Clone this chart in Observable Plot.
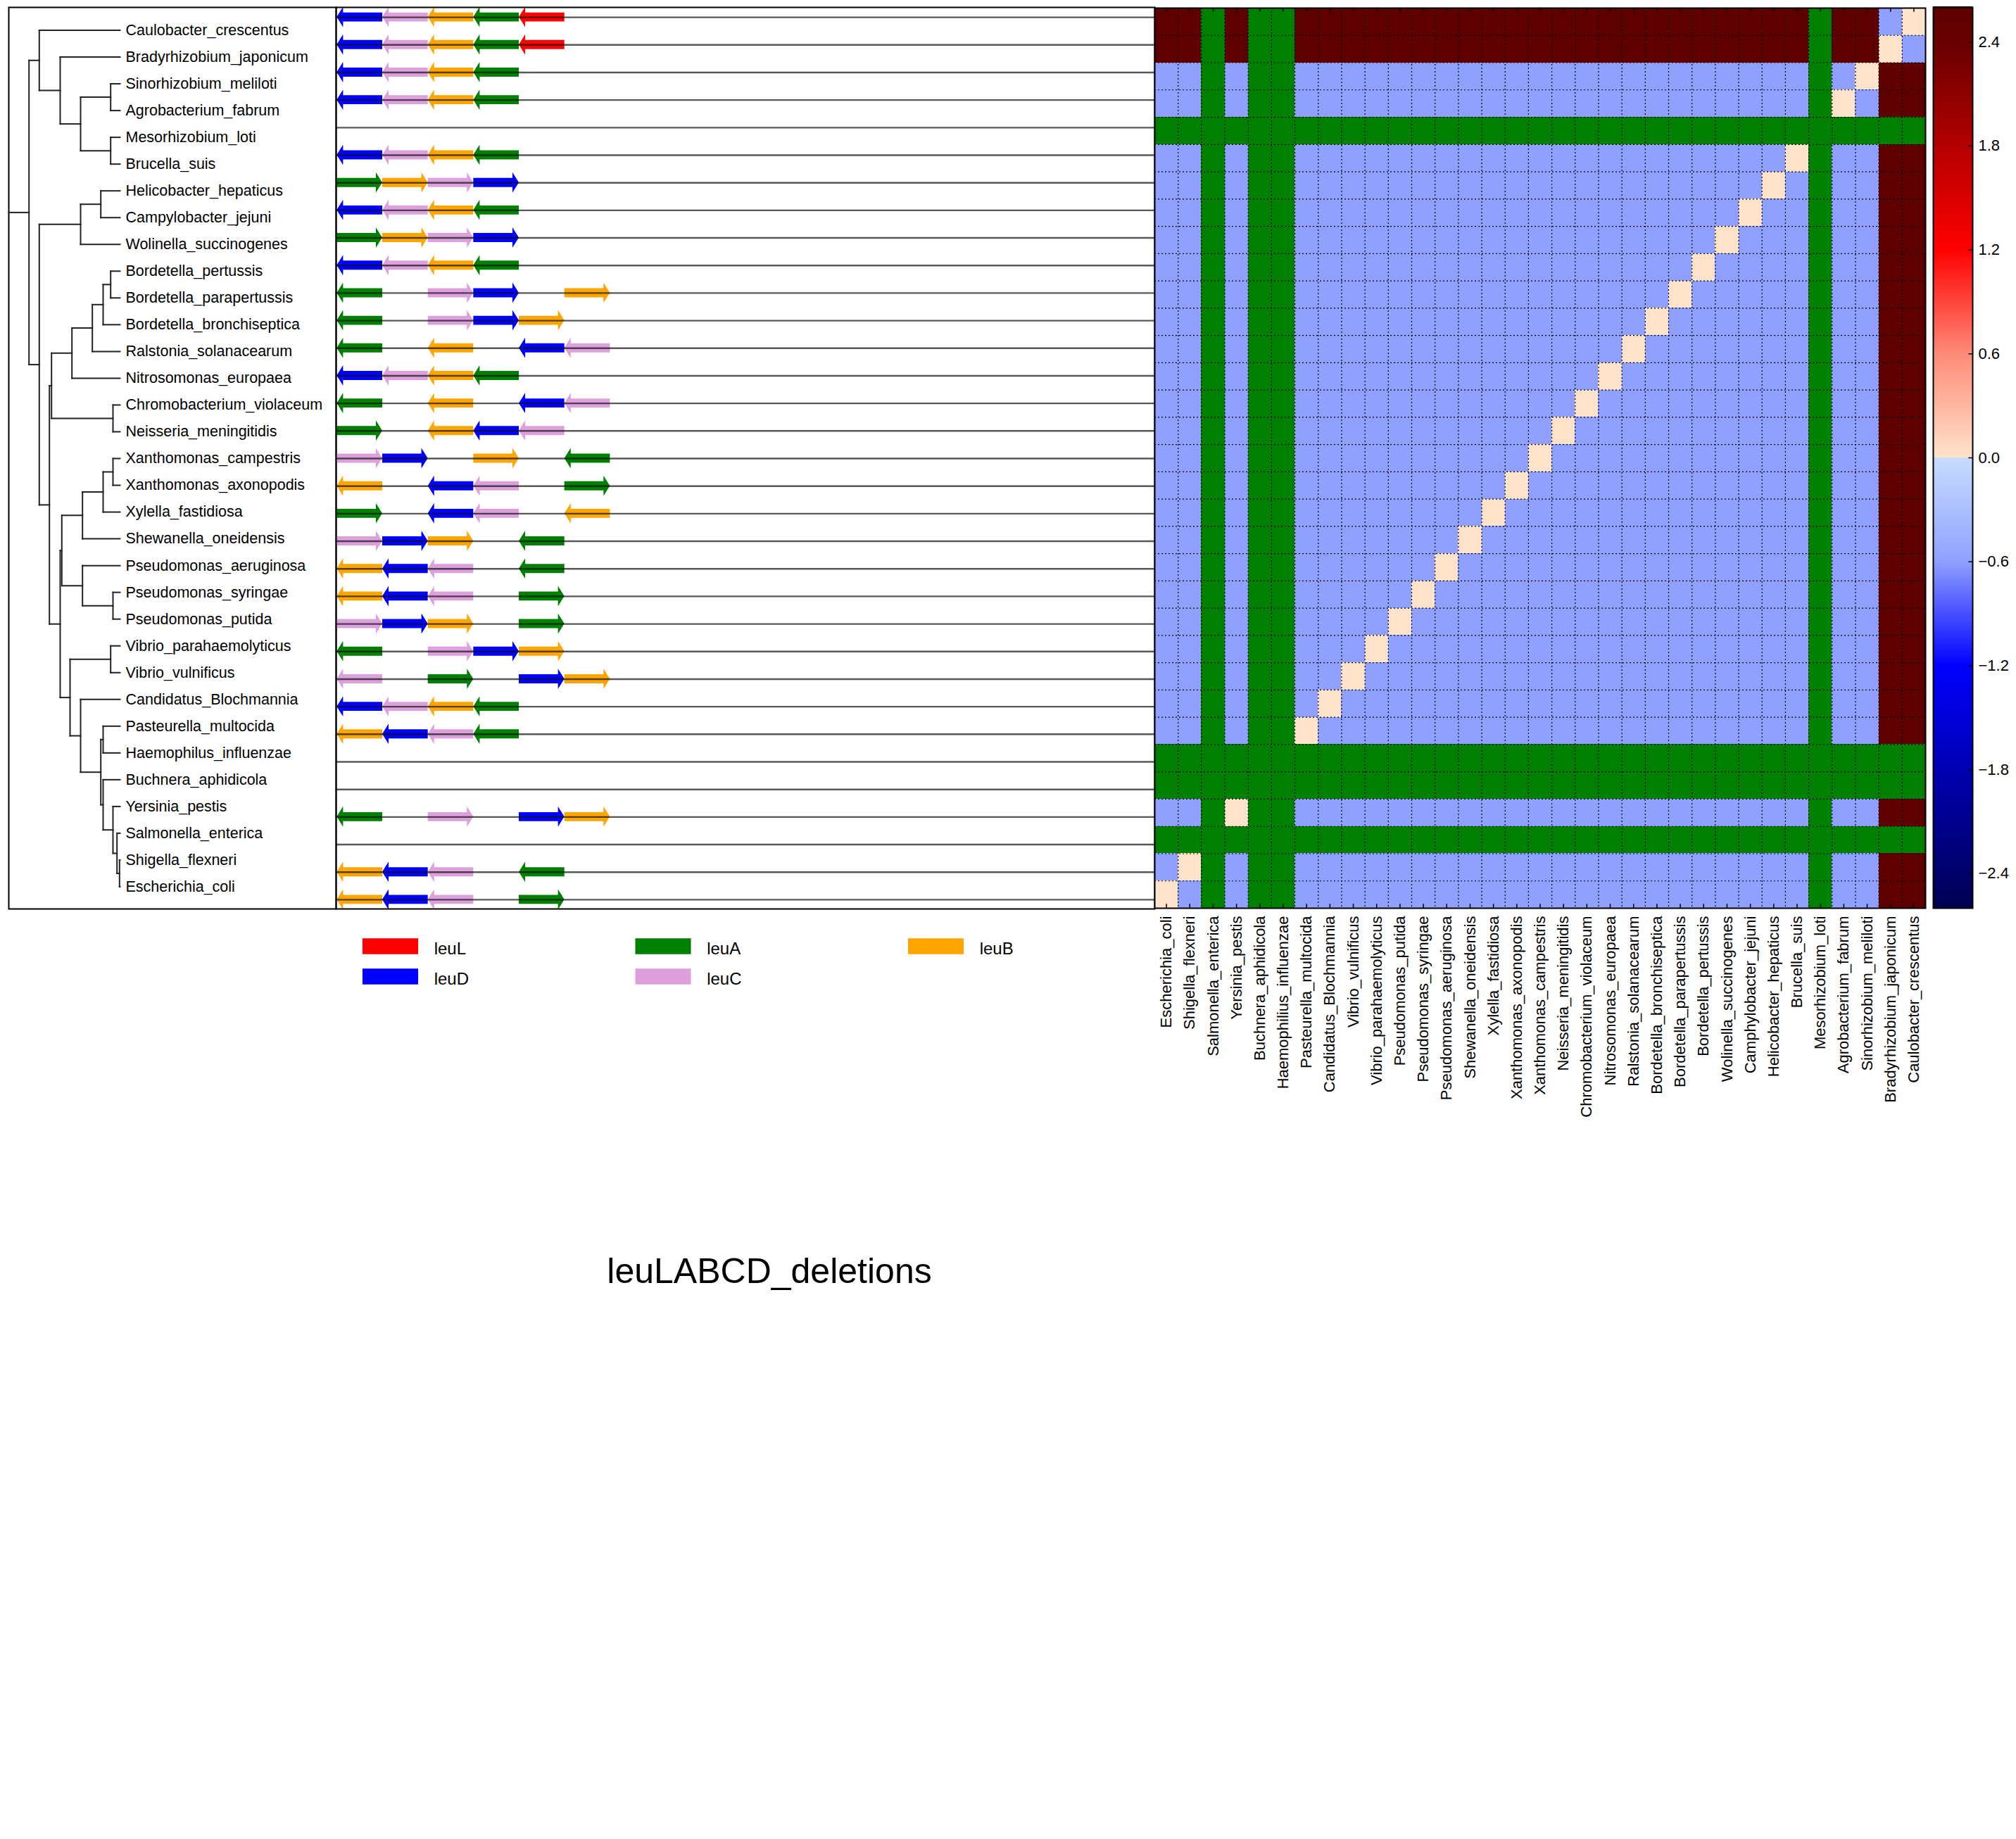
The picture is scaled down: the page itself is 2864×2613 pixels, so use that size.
<!DOCTYPE html>
<html>
<head>
<meta charset="utf-8">
<script src="https://cdn.jsdelivr.net/npm/d3@7"></script>
<script src="https://cdn.jsdelivr.net/npm/@observablehq/plot@0.6"></script>
<style>
  html, body { margin: 0; padding: 0; background: #fff; }
  #wrap { position: relative; width: 2864px; height: 2613px; background: #fff;
          font-family: "Liberation Sans", Arial, Helvetica, sans-serif; }
  #wrap svg { position: absolute; }
  #title { position: absolute; left: 0; width: 2186px; top: 1781px; text-align: center;
           font-size: 50px; line-height: 50px; color: #000; }
</style>
</head>
<body>
<div id="wrap"><div id="title">leuLABCD_deletions</div></div>
<script>
// ---------------- DATA ----------------
const species = [
  "Caulobacter_crescentus","Bradyrhizobium_japonicum","Sinorhizobium_meliloti","Agrobacterium_fabrum",
  "Mesorhizobium_loti","Brucella_suis","Helicobacter_hepaticus","Campylobacter_jejuni",
  "Wolinella_succinogenes","Bordetella_pertussis","Bordetella_parapertussis","Bordetella_bronchiseptica",
  "Ralstonia_solanacearum","Nitrosomonas_europaea","Chromobacterium_violaceum","Neisseria_meningitidis",
  "Xanthomonas_campestris","Xanthomonas_axonopodis","Xylella_fastidiosa","Shewanella_oneidensis",
  "Pseudomonas_aeruginosa","Pseudomonas_syringae","Pseudomonas_putida","Vibrio_parahaemolyticus",
  "Vibrio_vulnificus","Candidatus_Blochmannia","Pasteurella_multocida","Haemophilus_influenzae",
  "Buchnera_aphidicola","Yersinia_pestis","Salmonella_enterica","Shigella_flexneri","Escherichia_coli"
];

// heatmap column labels, left to right (as printed)
const colLabels = [
  "Escherichia_coli","Shigella_flexneri","Salmonella_enterica","Yersinia_pestis","Buchnera_aphidicola",
  "Haemophilius_influenzae","Pasteurella_multocida","Candidatus_Blochmannia","Vibrio_vulnificus",
  "Vibrio_parahaemolyticus","Pseudomonas_putida","Pseudomonas_syringae","Pseudomonas_aeruginosa",
  "Shewanella_oneidensis","Xylella_fastidiosa","Xanthomonas_axonopodis","Xanthomonas_campestris",
  "Neisseria_meningitidis","Chromobacterium_violaceum","Nitrosomonas_europaea","Ralstonia_solanacearum",
  "Bordetella_bronchiseptica","Bordetella_parapertussis","Bordetella_pertussis","Wolinella_succinogenes",
  "Camphylobacter_jejuni","Helicobacter_hepaticus","Brucella_suis","Mesorhizobium_loti",
  "Agrobacterium_fabrum","Sinorhizobium_meliloti","Bradyrhizobium_japonicum","Caulobacter_crescentus"
];

// tree: [node depth, children...]; leaves are names
const tipDepth = 158;
const tree = [28.7,
  [43.3, "Caulobacter_crescentus",
    [73, "Bradyrhizobium_japonicum",
      [102, [144.7, "Sinorhizobium_meliloti", "Agrobacterium_fabrum"],
            [144.7, "Mesorhizobium_loti", "Brucella_suis"]]]],
  [43.3,
    [102, [130.7, "Helicobacter_hepaticus", "Campylobacter_jejuni"], "Wolinella_succinogenes"],
    [57.7,
      [60.7,
        [89.7, [118.7, [134, [144.7, "Bordetella_pertussis", "Bordetella_parapertussis"],
                             "Bordetella_bronchiseptica"], "Ralstonia_solanacearum"], "Nitrosomonas_europaea"],
        [148, "Chromobacterium_violaceum", "Neisseria_meningitidis"]],
      [73,
        [75.3,
          [104.7, [134, [148, "Xanthomonas_campestris", "Xanthomonas_axonopodis"], "Xylella_fastidiosa"],
                  "Shewanella_oneidensis"],
          [104.7, "Pseudomonas_aeruginosa", [148, "Pseudomonas_syringae", "Pseudomonas_putida"]]],
        [87,
          [144.7, "Vibrio_parahaemolyticus", "Vibrio_vulnificus"],
          [102, "Candidatus_Blochmannia",
            [130.7,
              [134, "Pasteurella_multocida", "Haemophilus_influenzae"],
              [134, "Buchnera_aphidicola",
                [148, "Yersinia_pestis",
                  [153.7, "Salmonella_enterica",
                    [157.3, "Shigella_flexneri", "Escherichia_coli"]]]]]]]]]]
];

// gene tracks: gene letter, direction (< or >), slot position
const geneCodes = { L: "leuL", A: "leuA", B: "leuB", C: "leuC", D: "leuD" };
const operons = [
  "D<0 C<1 B<2 A<3 L<4", "D<0 C<1 B<2 A<3 L<4", "D<0 C<1 B<2 A<3", "D<0 C<1 B<2 A<3",
  "", "D<0 C<1 B<2 A<3", "A>0 B>1 C>2 D>3", "D<0 C<1 B<2 A<3",
  "A>0 B>1 C>2 D>3", "D<0 C<1 B<2 A<3", "A<0 C>2 D>3 B>5", "A<0 C>2 D>3 B>4",
  "A<0 B<2 D<4 C<5", "D<0 C<1 B<2 A<3", "A<0 B<2 D<4 C<5", "A>0 B<2 D<3 C<4",
  "C>0 D>1 B>3 A<5", "B<0 D<2 C<3 A>5", "A>0 D<2 C<3 B<5", "C>0 D>1 B>2 A<4",
  "B<0 D<1 C<2 A<4", "B<0 D<1 C<2 A>4", "C>0 D>1 B>2 A>4", "A<0 C>2 D>3 B>4",
  "C<0 A>2 D>4 B>5", "D<0 C<1 B<2 A<3", "B<0 D<1 C<2 A<3", "",
  "", "A<0 C>2 D>4 B>5", "", "B<0 D<1 C<2 A<4", "B<0 D<1 C<2 A>4"
];
const trackLength = 17.96;

const geneNames = ["leuL", "leuA", "leuB", "leuD", "leuC"];
const geneColors = ["#ff0000", "#008000", "#ffa500", "#0000ff", "#dda0dd"];

// heatmap: rows = species (top to bottom), columns = colLabels (left to right)
// b = -0.6, p = 0.0, r = 2.6, . = missing
const cellCode = { b: -0.6, p: 0.0, r: 2.6 };
const matrix = [
  "rr.r.. rrrrrrrrrrr rrrrrrrrrrr .rrbp",
  "rr.r.. rrrrrrrrrrr rrrrrrrrrrr .rrpb",
  "bb.b.. bbbbbbbbbbb bbbbbbbbbbb .bprr",
  "bb.b.. bbbbbbbbbbb bbbbbbbbbbb .pbrr",
  "...... ........... ........... .....",
  "bb.b.. bbbbbbbbbbb bbbbbbbbbbp .bbrr",
  "bb.b.. bbbbbbbbbbb bbbbbbbbbpb .bbrr",
  "bb.b.. bbbbbbbbbbb bbbbbbbbpbb .bbrr",
  "bb.b.. bbbbbbbbbbb bbbbbbbpbbb .bbrr",
  "bb.b.. bbbbbbbbbbb bbbbbbpbbbb .bbrr",
  "bb.b.. bbbbbbbbbbb bbbbbpbbbbb .bbrr",
  "bb.b.. bbbbbbbbbbb bbbbpbbbbbb .bbrr",
  "bb.b.. bbbbbbbbbbb bbbpbbbbbbb .bbrr",
  "bb.b.. bbbbbbbbbbb bbpbbbbbbbb .bbrr",
  "bb.b.. bbbbbbbbbbb bpbbbbbbbbb .bbrr",
  "bb.b.. bbbbbbbbbbb pbbbbbbbbbb .bbrr",
  "bb.b.. bbbbbbbbbbp bbbbbbbbbbb .bbrr",
  "bb.b.. bbbbbbbbbpb bbbbbbbbbbb .bbrr",
  "bb.b.. bbbbbbbbpbb bbbbbbbbbbb .bbrr",
  "bb.b.. bbbbbbbpbbb bbbbbbbbbbb .bbrr",
  "bb.b.. bbbbbbpbbbb bbbbbbbbbbb .bbrr",
  "bb.b.. bbbbbpbbbbb bbbbbbbbbbb .bbrr",
  "bb.b.. bbbbpbbbbbb bbbbbbbbbbb .bbrr",
  "bb.b.. bbbpbbbbbbb bbbbbbbbbbb .bbrr",
  "bb.b.. bbpbbbbbbbb bbbbbbbbbbb .bbrr",
  "bb.b.. bpbbbbbbbbb bbbbbbbbbbb .bbrr",
  "bb.b.. pbbbbbbbbbb bbbbbbbbbbb .bbrr",
  "...... ........... ........... .....",
  "...... ........... ........... .....",
  "bb.p.. bbbbbbbbbbb bbbbbbbbbbb .bbrr",
  "...... ........... ........... .....",
  "bp.b.. bbbbbbbbbbb bbbbbbbbbbb .bbrr",
  "pb.b.. bbbbbbbbbbb bbbbbbbbbbb .bbrr"
];

const colorDomain = [-2.6, -1.8, -1.2, -0.6, -0.0001, 0, 0.6, 1.2, 1.8, 2.4, 2.6];
const colorRange  = ["#000050", "#0000b4", "#0000ff", "#8fa0ff", "#c8dcff", "#ffe3cb",
                     "#ff8a78", "#ff0000", "#b40000", "#680000", "#5e0000"];
const colorTicks = [2.4, 1.8, 1.2, 0.6, 0.0, -0.6, -1.2, -1.8, -2.4];

// ---------------- BUILD ----------------
const wrap = document.getElementById("wrap");
const baseStyle = {
  background: "transparent", overflow: "visible",
  fontFamily: "'Liberation Sans', Arial, Helvetica, sans-serif",
  fontSize: "21.5px", color: "#000"
};
function place(svg, left, top) {
  svg.style.left = left + "px";
  svg.style.top = top + "px";
  svg.style.maxWidth = "none";
  wrap.appendChild(svg);
}

// ---- tree ----
const segs = [];
function walk(node) {
  if (typeof node === "string") return { y: species.indexOf(node), depth: tipDepth };
  const [d, ...kids] = node;
  const ks = kids.map(walk);
  const ys = ks.map(k => k.y);
  const lo = Math.min(...ys), hi = Math.max(...ys);
  segs.push({ x1: d, y1: lo, x2: d, y2: hi });
  ks.forEach(k => segs.push({ x1: d, y1: k.y, x2: k.depth, y2: k.y }));
  return { y: (lo + hi) / 2, depth: d };
}
const root = walk(tree);
segs.push({ x1: 0, y1: root.y, x2: root.depth, y2: root.y });

place(Plot.plot({
  width: 465, height: 1281, margin: 0,
  x: { domain: [0, tipDepth], range: [0, tipDepth], axis: null },
  y: { domain: [0, 32], range: [32.5, 1249.5], axis: null },
  style: baseStyle,
  marks: [
    Plot.frame({ stroke: "#000", strokeWidth: 2 }),
    Plot.link(segs, { x1: "x1", y1: "y1", x2: "x2", y2: "y2", stroke: "#222", strokeWidth: 2, strokeLinecap: "square" }),
    Plot.text(species, { x: () => tipDepth, y: (d, i) => i, text: d => d, textAnchor: "start", dx: 8, fontSize: 21.5, fill: "#000" })
  ]
}), 12, 10);

// ---- gene tracks ----
const HEAD = 0.14, BODY = 0.165, BARB = 0.37;
const arrowPts = [];
operons.forEach((s, row) => {
  s.split(" ").filter(Boolean).forEach((tok, j) => {
    const g = geneCodes[tok[0]], dir = tok[1], a = +tok.slice(2), b = a + 1, id = row + "-" + j;
    const pts = dir === "<"
      ? [[a, 0], [a + HEAD, BARB], [a + HEAD, BODY], [b, BODY]]
      : [[a, BODY], [b - HEAD, BODY], [b - HEAD, BARB], [b, 0]];
    pts.forEach(([x, h]) => arrowPts.push({ id, gene: g, x, y1: row - h, y2: row + h }));
  });
});

place(Plot.plot({
  width: 1163, height: 1281, margin: 0,
  x: { domain: [0, trackLength], range: [1.3, 1163], axis: null },
  y: { domain: [0, 32], range: [14.1, 1267.9], axis: null },
  color: { domain: geneNames, range: geneColors },
  style: baseStyle,
  marks: [
    Plot.area(arrowPts, { x1: "x", y1: "y1", y2: "y2", z: "id", fill: "gene" }),
    Plot.ruleY(operons, { y: (d, i) => i, x1: () => 0, x2: () => trackLength, stroke: "#111", strokeWidth: 2.4, strokeOpacity: 0.7 }),
    Plot.frame({ stroke: "#000", strokeWidth: 2 })
  ]
}), 477, 10);

// ---- heatmap ----
const cells = [];
matrix.forEach((rowStr, r) => {
  const s = rowStr.replace(/ /g, "");
  if (s.length !== colLabels.length) console.warn("row length", r, s.length);
  [...s].forEach((ch, c) => cells.push({ r, c, v: ch === "." ? null : cellCode[ch] }));
});
const colorScale = { type: "linear", domain: colorDomain, range: colorRange };
const nC = colLabels.length, nR = species.length;
place(Plot.plot({
  width: 1095, height: 1279 + 270,
  marginLeft: 0, marginRight: 0, marginTop: 0, marginBottom: 270,
  x: { domain: [0, nC], ticks: d3.range(nC).map(i => i + 0.5), tickFormat: t => colLabels[Math.floor(t)],
       tickRotate: -90, tickSize: 0, tickPadding: 11, label: null },
  y: { domain: [0, nR], range: [0, 1279], axis: null },
  color: colorScale,
  style: { ...baseStyle, fontSize: "22px" },
  marks: [
    Plot.rect(cells.filter(d => d.v !== null), { x1: "c", x2: d => d.c + 1, y1: "r", y2: d => d.r + 1, fill: "v", shapeRendering: "crispEdges" }),
    Plot.rect(cells.filter(d => d.v === null), { x1: "c", x2: d => d.c + 1, y1: "r", y2: d => d.r + 1, fill: "#008000", shapeRendering: "crispEdges" }),
    Plot.ruleX(d3.range(1, nC), { x: d => d, y1: () => 0, y2: () => nR, stroke: "#000", strokeWidth: 1.2, strokeDasharray: "2,3" }),
    Plot.ruleY(d3.range(1, nR), { y: d => d, x1: () => 0, x2: () => nC, stroke: "#000", strokeWidth: 1.2, strokeDasharray: "2,3" }),
    Plot.ruleX(d3.range(nC), { x: d => d + 0.5, y1: () => 0, y2: () => 0.15, stroke: "#000", strokeWidth: 1.5 }),
    Plot.ruleX(d3.range(nC), { x: d => d + 0.5, y1: () => nR - 0.15, y2: () => nR, stroke: "#000", strokeWidth: 1.5 }),
    Plot.frame({ stroke: "#000", strokeWidth: 2 })
  ]
}), 1640, 11);

// ---- colorbar ----
const slices = d3.range(520).map(k => ({ v0: (k - 260) / 100, v1: (k - 259) / 100 }));
place(Plot.plot({
  width: 56 + 90, height: 1280,
  marginLeft: 0, marginTop: 0, marginBottom: 0, marginRight: 90,
  x: { domain: [0, 1], axis: null },
  y: { domain: [-2.6, 2.6], range: [1280, 0], axis: "right", ticks: colorTicks,
       tickFormat: d3.format(".1f"), tickSize: 0, tickPadding: 8, label: null },
  color: colorScale,
  style: { ...baseStyle, fontSize: "22px" },
  marks: [
    Plot.rect(slices, { x1: () => 0, x2: () => 1, y1: "v0", y2: d => d.v1 + 0.003, fill: d => (d.v0 + d.v1) / 2, shapeRendering: "crispEdges" }),
    Plot.ruleY(colorTicks, { y: d => d, x1: () => 0.9, x2: () => 1, stroke: "#000", strokeWidth: 1.5 }),
    Plot.frame({ stroke: "#000", strokeWidth: 2 })
  ]
}), 2746, 10);

// ---- gene legend ----
const legendOrder = ["leuL", "leuA", "leuB", "leuD", "leuC"];
const legendItems = legendOrder.map((g, i) => ({ gene: g, col: i % 3, row: Math.floor(i / 3) }));
place(Plot.plot({
  width: 1100, height: 130, margin: 0,
  x: { domain: [0, 3], range: [45, 45 + 3 * 387.5], axis: null },
  y: { domain: [0, 1], range: [44.5, 87.5], axis: null },
  color: { domain: geneNames, range: geneColors },
  style: baseStyle,
  marks: [
    Plot.rect(legendItems, { x1: "col", x2: d => d.col + 0.204, y1: d => d.row - 0.262, y2: d => d.row + 0.262, fill: "gene" }),
    Plot.text(legendItems, { x: d => d.col + 0.261, y: d => d.row + 0.08, text: "gene", textAnchor: "start", fontSize: 24, fill: "#000" })
  ]
}), 470, 1300);
</script>
</body>
</html>
